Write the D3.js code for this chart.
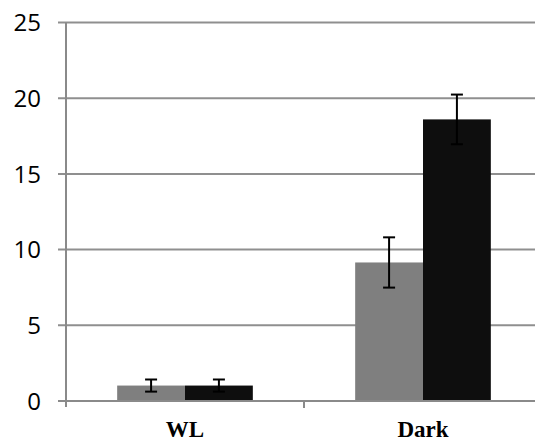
<!DOCTYPE html>
<html>
<head>
<meta charset="utf-8">
<script src="https://cdn.jsdelivr.net/npm/d3@7"></script>
<style>
  html, body { margin: 0; padding: 0; background: #fff; }
  svg { display: block; }
</style>
</head>
<body>
<svg id="chart" width="535" height="443"></svg>
<script>
// Two conditions, two series per condition, mean ± error
const categories = ["WL", "Dark"];
const seriesNames = ["gray", "black"];
const grayValues = [1.02, 9.15];
const grayErrors = [0.40, 1.66];
const blackValues = [1.02, 18.6];
const blackErrors = [0.40, 1.64];
const yTicks = [0, 5, 10, 15, 20, 25];
const seriesColors = ["#7f7f7f", "#0e0e0e"];

const svg = d3.select("#chart");

const plot = { left: 66, right: 542, top: 22.5, bottom: 401 };

const x = d3.scaleBand().domain(categories).range([plot.left, plot.right]).padding(0);
const xInner = d3.scaleBand().domain(seriesNames)
  .range([x.bandwidth() * 0.215, x.bandwidth() * 0.785]).padding(0);
const y = d3.scaleLinear().domain([0, 25]).range([plot.bottom, plot.top]);

// horizontal gridlines with short ticks left of the axis
svg.append("g").selectAll("line").data(yTicks.filter(d => d > 0)).join("line")
  .attr("x1", plot.left - 8).attr("x2", plot.right)
  .attr("y1", d => y(d)).attr("y2", d => y(d))
  .attr("stroke", "#8f8f8f").attr("stroke-width", 2);

// y tick labels
svg.append("g").selectAll("text").data(yTicks).join("text")
  .attr("x", 41).attr("y", d => y(d))
  .attr("dy", "0.36em")
  .attr("text-anchor", "end")
  .attr("font-family", "Open Sans, Liberation Sans, sans-serif")
  .attr("font-size", 24)
  .attr("fill", "#000")
  .text(d => d);

const rows = categories.map((c, i) => ({
  cat: c,
  items: [
    { s: seriesNames[0], v: grayValues[i], e: grayErrors[i], color: seriesColors[0] },
    { s: seriesNames[1], v: blackValues[i], e: blackErrors[i], color: seriesColors[1] }
  ]
}));

const groups = svg.append("g").selectAll("g").data(rows).join("g")
  .attr("transform", d => `translate(${x(d.cat)},0)`);

groups.selectAll("rect").data(d => d.items).join("rect")
  .attr("x", d => xInner(d.s))
  .attr("width", xInner.bandwidth())
  .attr("y", d => y(d.v))
  .attr("height", d => y(0) - y(d.v))
  .attr("fill", d => d.color);

// error bars
const eb = groups.selectAll("g.err").data(d => d.items).join("g").attr("class", "err")
  .attr("transform", d => `translate(${xInner(d.s) + xInner.bandwidth() / 2},0)`);
eb.append("line")
  .attr("x1", 0).attr("x2", 0)
  .attr("y1", d => y(d.v + d.e)).attr("y2", d => y(d.v - d.e))
  .attr("stroke", "#000").attr("stroke-width", 2);
eb.append("line")
  .attr("x1", -6).attr("x2", 6)
  .attr("y1", d => y(d.v + d.e)).attr("y2", d => y(d.v + d.e))
  .attr("stroke", "#000").attr("stroke-width", 2);
eb.append("line")
  .attr("x1", -6).attr("x2", 6)
  .attr("y1", d => y(d.v - d.e)).attr("y2", d => y(d.v - d.e))
  .attr("stroke", "#000").attr("stroke-width", 2);

// axes
svg.append("line")
  .attr("x1", plot.left).attr("x2", plot.left)
  .attr("y1", plot.top).attr("y2", plot.bottom + 6)
  .attr("stroke", "#8a8a8a").attr("stroke-width", 2);
svg.append("line")
  .attr("x1", plot.left - 8).attr("x2", plot.right)
  .attr("y1", plot.bottom).attr("y2", plot.bottom)
  .attr("stroke", "#8a8a8a").attr("stroke-width", 2);
// category divider ticks
svg.append("g").selectAll("line").data(categories.slice(1)).join("line")
  .attr("x1", d => x(d)).attr("x2", d => x(d))
  .attr("y1", plot.bottom).attr("y2", plot.bottom + 7)
  .attr("stroke", "#8a8a8a").attr("stroke-width", 2);

// category labels
svg.append("g").selectAll("text").data(categories).join("text")
  .attr("x", d => x(d) + x.bandwidth() / 2)
  .attr("y", 436.5)
  .attr("text-anchor", "middle")
  .attr("font-family", "Liberation Serif, Times New Roman, serif")
  .attr("font-weight", "bold")
  .attr("font-size", 23)
  .attr("fill", "#000")
  .text(d => d);
</script>
</body>
</html>
